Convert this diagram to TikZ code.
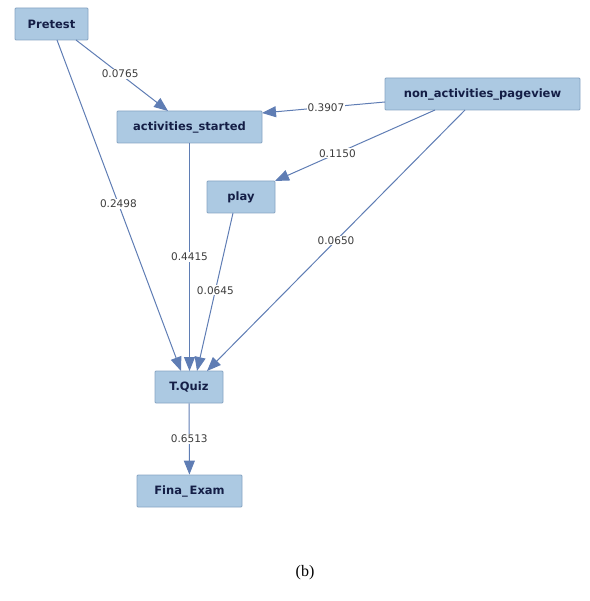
\documentclass[tikz,border=0pt]{standalone}
\usepackage{fontspec}
\setmainfont{Liberation Serif}
\newfontfamily\boxfont{DejaVu Sans}
\usetikzlibrary{arrows.meta}
\definecolor{boxfill}{RGB}{172,201,226}
\definecolor{boxdraw}{RGB}{135,165,195}
\definecolor{boxtext}{RGB}{20,30,70}
\definecolor{edgecol}{RGB}{95,125,180}
\definecolor{labcol}{RGB}{60,60,60}
\begin{document}
\begin{tikzpicture}[x=1pt,y=-1pt,
  vbox/.style={draw=boxdraw,fill=boxfill,line width=0.8pt,rounded corners=1pt,
    text=boxtext,font=\boxfont\bfseries\fontsize{11.5}{13}\selectfont,
    minimum height=32pt,inner sep=0pt},
  edge/.style={draw=edgecol,line width=1pt,-{Triangle[length=14pt,width=11pt]}},
  wlab/.style={fill=white,text=labcol,font=\boxfont\fontsize{10.5}{12}\selectfont,inner sep=1pt}]
\useasboundingbox (0,0) rectangle (589,601);
\node[vbox,minimum width=73pt] (pre) at (51.5,24) {Pretest};
\node[vbox,minimum width=145pt] (act) at (189.5,127) {activities\_started};
\node[vbox,minimum width=195pt] (non) at (482.5,94) {non\_activities\_pageview};
\node[vbox,minimum width=68pt] (play) at (241,197) {play};
\node[vbox,minimum width=68pt] (tq) at (189,387) {T.Quiz};
\node[vbox,minimum width=105pt] (fe) at (189.5,491) {Fina\_\,Exam};
\node[font=\fontsize{16}{18}\selectfont] (cap) at (305,573) {(b)};
\coordinate (preA) at (76,40); \coordinate (actA) at (168,111);
\coordinate (preB) at (57,40); \coordinate (tqA) at (181,371);
\coordinate (nonA) at (385,102); \coordinate (actB) at (262,113);
\coordinate (nonB) at (435,110); \coordinate (playA) at (275,181);
\coordinate (nonC) at (465,110); \coordinate (tqB) at (207,371);
\coordinate (actC) at (189.5,143); \coordinate (tqC) at (189.5,371);
\coordinate (playB) at (233,213); \coordinate (tqD) at (197,371);
\draw[edge] (preA) -- node[wlab,pos=0.48] {0.0765} (actA);
\draw[edge] (preB) -- node[wlab,pos=0.495] {0.2498} (tqA);
\draw[edge] (nonA) -- node[wlab,pos=0.48] {0.3907} (actB);
\draw[edge] (nonB) -- node[wlab,pos=0.61] {0.1150} (playA);
\draw[edge] (nonC) -- node[wlab,pos=0.5] {0.0650} (tqB);
\draw[edge] (actC) -- node[wlab,pos=0.5] {0.4415} (tqC);
\draw[edge] (playB) -- node[wlab,pos=0.49] {0.0645} (tqD);
\draw[edge] (tq) -- node[wlab,pos=0.5] {0.6513} (fe);
\end{tikzpicture}
\end{document}
